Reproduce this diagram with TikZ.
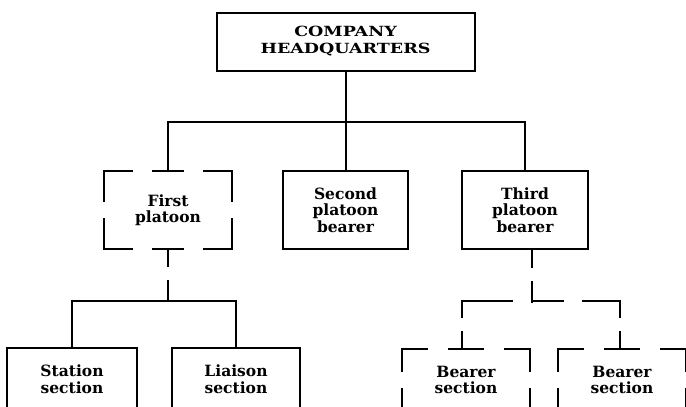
\documentclass[tikz,border=0pt]{standalone}
\usepackage{fontspec}
\setmainfont{DejaVu Serif}
\newfontfamily\hqfont{DejaVu Serif}[FakeStretch=1.25]
\usetikzlibrary{calc}
\newcommand\dashframe[4]{% node, horizontal corner arm, middle half length, vertical corner arm
  \draw[frameline] ($(#1.north west)+(0,#4)$) -- (#1.north west) -- ++(#2,0);
  \draw[frameline] ($(#1.north east)+(0,#4)$) -- (#1.north east) -- ++(-#2,0);
  \draw[frameline] ($(#1.south west)+(0,-#4)$) -- (#1.south west) -- ++(#2,0);
  \draw[frameline] ($(#1.south east)+(0,-#4)$) -- (#1.south east) -- ++(-#2,0);
  \draw[frameline] ($(#1.north)+(-#3,0)$) -- ++(2*#3,0);
  \draw[frameline] ($(#1.south)+(-#3,0)$) -- ++(2*#3,0);
}
\begin{document}
\begin{tikzpicture}[x=1pt,y=-1pt,
  txt/.style={align=center,inner sep=0pt,font=\fontsize{15.5}{16.5}\selectfont\bfseries},
  sbox/.style={txt,draw,line width=2pt},
  dbox/.style={txt},
  hqbox/.style={sbox,font=\hqfont\fontsize{14}{17}\selectfont\bfseries},
  frameline/.style={line width=2pt,line cap=rect},
  conn/.style={line width=2pt,line cap=rect}]
\useasboundingbox (0,0) rectangle (686,407);
\clip (0,0) rectangle (686,407);
\fill[white] (0,0) rectangle (686,407);

\node[hqbox,minimum width=258pt,minimum height=58pt] (hq) at (345.5,41.5) {COMPANY\\HEADQUARTERS};

\node[dbox,minimum width=128pt,minimum height=78pt] (fp) at (168,210) {First\\platoon};
\node[sbox,minimum width=125pt,minimum height=78pt] (sp) at (345.5,210) {Second\\platoon\\bearer};
\node[sbox,minimum width=126pt,minimum height=78pt] (tp) at (525,210) {Third\\platoon\\bearer};

\node[sbox,minimum width=130pt,minimum height=62pt] (st) at (72,379) {Station\\section};
\node[sbox,minimum width=128pt,minimum height=62pt] (li) at (236,379) {Liaison\\section};
\node[dbox,minimum width=128pt,minimum height=62pt] (b1) at (466,380) {Bearer\\section};
\node[dbox,minimum width=128pt,minimum height=62pt] (b2) at (622,380) {Bearer\\section};

\dashframe{fp}{28}{15}{30}
\dashframe{b1}{25}{17}{22}
\dashframe{b2}{25}{17}{22}

% headquarters to platoons
\coordinate (j1) at (346,122);
\draw[conn] (hq.south) -- (sp.north);
\draw[conn] (fp.north) |- (j1) -| (tp.north);

% first platoon to sections
\coordinate (j2) at ($(fp.south)+(0,52)$);
\draw[conn,dash pattern=on 17pt off 15pt on 40pt] (fp.south) -- (j2);
\draw[conn] (st.north) |- (j2) -| (li.north);

% third platoon to bearer sections
\coordinate (t1) at ([xshift=7pt]tp.south);
\coordinate (j3) at ($(t1)+(0,52)$);
\coordinate (k1) at (462,301);
\coordinate (k2) at (620,301);
\draw[conn,dash pattern=on 17pt off 15pt on 40pt] (t1) -- (j3);
\draw[conn,dash pattern=on 50pt off 21pt on 30pt off 20pt on 40pt] (k1) -- (k2);
\draw[conn,dash pattern=on 16pt off 15pt on 30pt] (k1) -- (k1 |- b1.north);
\draw[conn,dash pattern=on 16pt off 15pt on 30pt] (k2) -- (k2 |- b2.north);
\end{tikzpicture}
\end{document}
